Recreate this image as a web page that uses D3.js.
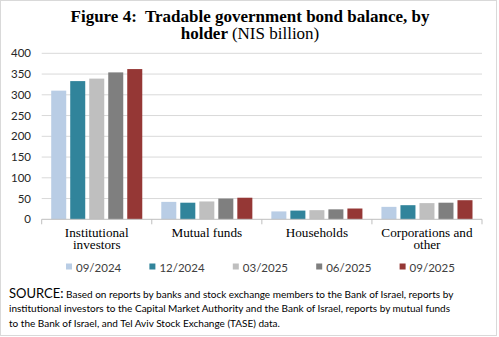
<!DOCTYPE html>
<html>
<head>
<meta charset="utf-8">
<script src="https://cdn.jsdelivr.net/npm/d3@7"></script>
<style>
body { margin: 0; background: #fff; }
</style>
</head>
<body>
<script>
// chart data
var categories = [["Institutional", "investors"], ["Mutual funds"], ["Households"], ["Corporations and", "other"]];
var series = ["09/2024", "12/2024", "03/2025", "06/2025", "09/2025"];
var colors = ["#b9cde5", "#31849b", "#bfbfbf", "#7f7f7f", "#953735"];
var values = [
    [310, 333, 339, 354, 362],
    [42, 40, 43, 50, 52],
    [19, 21, 22, 24, 26],
    [30, 34, 39, 40, 46]
];
var yTicks = [0, 50, 100, 150, 200, 250, 300, 350, 400];

var W = 499, H = 337;
var plot = {left: 41.7, right: 482, top: 53.3, bottom: 219.3};

var svg = d3.select("body").append("svg")
    .attr("width", W)
    .attr("height", H);

// outer frame
svg.append("rect")
    .attr("x", 0.5).attr("y", 0.5)
    .attr("width", W - 3).attr("height", H - 2)
    .attr("fill", "#fff")
    .attr("stroke", "#d9d9d9");

// title, two lines
svg.append("text")
    .attr("x", 250).attr("y", 22)
    .attr("text-anchor", "middle")
    .attr("font-family", "Liberation Serif")
    .attr("font-size", 17)
    .attr("font-weight", "bold")
    .text("Figure 4:\u00a0 Tradable government bond balance, by");

var t2 = svg.append("text")
    .attr("x", 250).attr("y", 39)
    .attr("text-anchor", "middle")
    .attr("font-family", "Liberation Serif")
    .attr("font-size", 17);
t2.append("tspan").attr("font-weight", "bold").text("holder ");
t2.append("tspan").text("(NIS billion)");

// scales
var x = d3.scaleBand()
    .domain(d3.range(categories.length))
    .range([plot.left, plot.right])
    .padding(0);

var xInner = d3.scaleBand()
    .domain(d3.range(series.length))
    .range([0, x.bandwidth()])
    .paddingInner(0.21)
    .paddingOuter(0.5);

var y = d3.scaleLinear()
    .domain([0, 400])
    .range([plot.bottom, plot.top]);

// gridlines
svg.append("g").selectAll("line")
    .data(yTicks.slice(1))
    .enter()
    .append("line")
    .attr("x1", plot.left).attr("x2", plot.right)
    .attr("y1", function (d) { return y(d); })
    .attr("y2", function (d) { return y(d); })
    .attr("stroke", "#d9d9d9")
    .attr("stroke-width", 1);

// y axis labels
svg.append("g").selectAll("text")
    .data(yTicks)
    .enter()
    .append("text")
    .attr("x", 31)
    .attr("y", function (d) { return y(d) + 4; })
    .attr("text-anchor", "end")
    .attr("font-family", "Lato")
    .attr("font-size", 11.5)
    .attr("fill", "#262626")
    .text(function (d) { return d; });

// bars
var groups = svg.append("g").selectAll("g")
    .data(values)
    .enter()
    .append("g")
    .attr("transform", function (d, i) { return "translate(" + x(i) + ",0)"; });

groups.selectAll("rect")
    .data(function (d) { return d; })
    .enter()
    .append("rect")
    .attr("x", function (d, j) { return xInner(j); })
    .attr("y", function (d) { return y(d); })
    .attr("width", xInner.bandwidth())
    .attr("height", function (d) { return y(0) - y(d); })
    .attr("fill", function (d, j) { return colors[j]; });

// x axis line and ticks
svg.append("line")
    .attr("x1", plot.left).attr("x2", plot.right)
    .attr("y1", plot.bottom).attr("y2", plot.bottom)
    .attr("stroke", "#bfbfbf");

svg.append("g").selectAll("line")
    .data(d3.range(categories.length + 1))
    .enter()
    .append("line")
    .attr("x1", function (d) { return plot.left + d * x.step(); })
    .attr("x2", function (d) { return plot.left + d * x.step(); })
    .attr("y1", plot.bottom)
    .attr("y2", plot.bottom + 5)
    .attr("stroke", "#bfbfbf");

// category labels, one text per line
categories.forEach(function (lines, i) {
    lines.forEach(function (s, k) {
        svg.append("text")
            .attr("x", x(i) + x.bandwidth() / 2)
            .attr("y", 236.5 + k * 12.8)
            .attr("text-anchor", "middle")
            .attr("font-family", "Liberation Serif")
            .attr("font-size", 13.2)
            .attr("fill", "#000")
            .text(s);
    });
});

// legend
var legend = svg.append("g").selectAll("g")
    .data(series)
    .enter()
    .append("g")
    .attr("transform", function (d, i) { return "translate(" + (66 + i * 83.4) + ",267)"; });

legend.append("rect")
    .attr("x", 0).attr("y", -3.5)
    .attr("width", 6).attr("height", 6)
    .attr("fill", function (d, i) { return colors[i]; });

legend.append("text")
    .attr("x", 10).attr("y", 4.5)
    .attr("font-family", "Lato")
    .attr("font-size", 11.5)
    .attr("fill", "#404040")
    .text(function (d) { return d; });

// source note
var sourceLines = [
    "Based on reports by banks and stock exchange members to the Bank of Israel, reports by",
    "institutional investors to the Capital Market Authority and the Bank of Israel, reports by mutual funds",
    "to the Bank of Israel, and Tel Aviv Stock Exchange (TASE) data."
];

var src = svg.append("text")
    .attr("x", 9).attr("y", 297.5)
    .attr("font-family", "Lato")
    .attr("font-size", 10)
    .attr("fill", "#000");
src.append("tspan").attr("font-size", 13).text("SOURCE:");
src.append("tspan").text(" " + sourceLines[0]);

sourceLines.slice(1).forEach(function (s, k) {
    svg.append("text")
        .attr("x", 9).attr("y", 312 + k * 14.5)
        .attr("font-family", "Lato")
        .attr("font-size", 10)
        .attr("fill", "#000")
        .text(s);
});
</script>
</body>
</html>
